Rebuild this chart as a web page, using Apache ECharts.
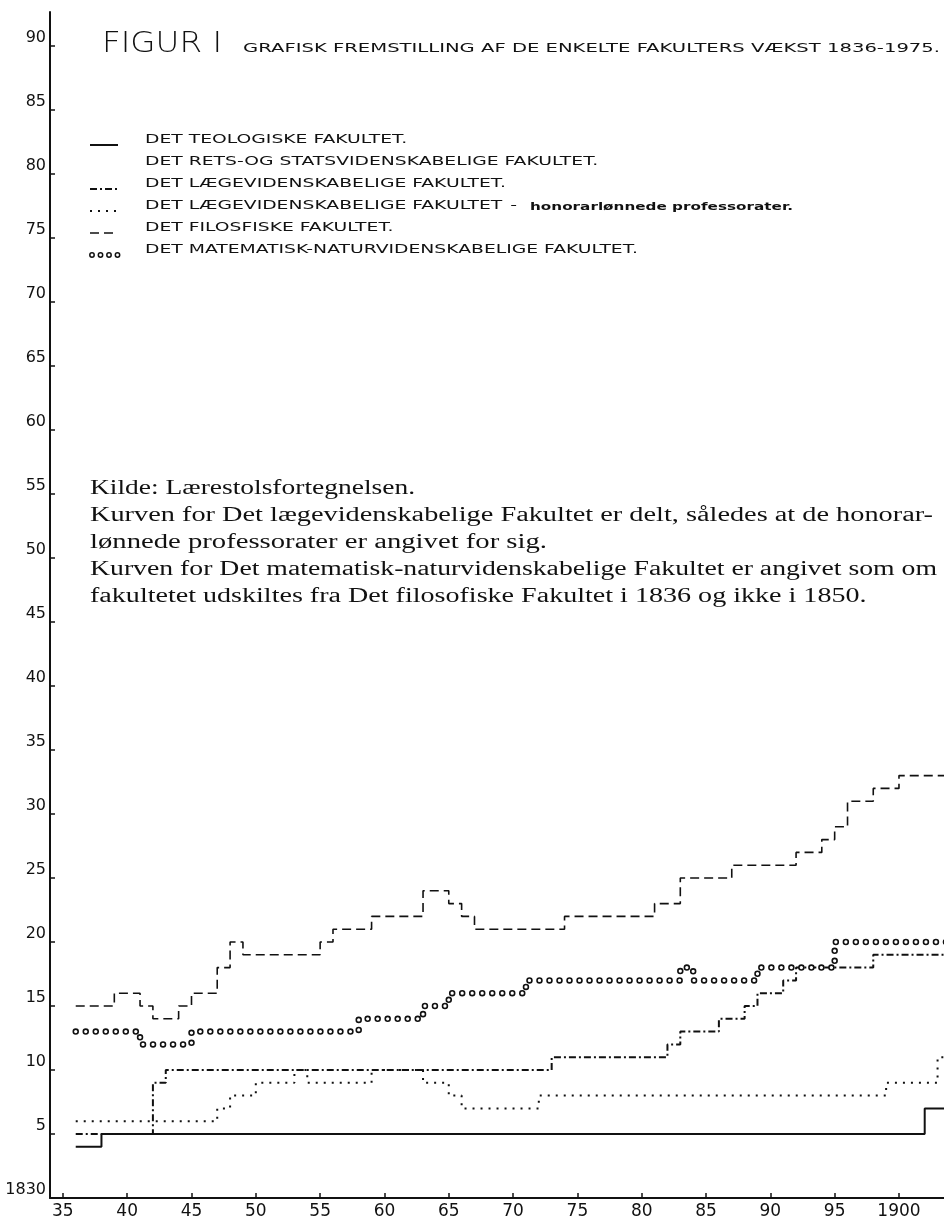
<!DOCTYPE html>
<html>
<head>
<meta charset="utf-8">
<script src="https://cdn.jsdelivr.net/npm/echarts@6/dist/echarts.min.js"></script>
<style>
  html, body { margin: 0; padding: 0; background: #fff; }
  #chart { width: 944px; height: 1225px; }
</style>
</head>
<body>
<div id="chart"></div>
<script>
// each year starts a new value; the last entry only carries the line to the edge
const teolYears = [1836, 1838, 1902, 1904];
const teolValues = [4, 5, 7, 7];

const laegeYears = [1836, 1842, 1843, 1873, 1882, 1883, 1886, 1888, 1889, 1891, 1892, 1898, 1904];
const laegeValues = [5, 9, 10, 11, 12, 13, 14, 15, 16, 17, 18, 19, 19];

const honorarYears = [1836, 1847, 1848, 1850, 1853, 1854, 1859, 1863, 1865, 1866, 1872, 1899, 1903, 1904];
const honorarValues = [6, 7, 8, 9, 10, 9, 10, 9, 8, 7, 8, 9, 11, 11];

const filosYears = [1836, 1839, 1841, 1842, 1844, 1845, 1847, 1848, 1849, 1855, 1856, 1859, 1863, 1865, 1866, 1867, 1874, 1881, 1883, 1887, 1892, 1894, 1895, 1896, 1898, 1900, 1904];
const filosValues = [15, 16, 15, 14, 15, 16, 18, 20, 19, 20, 21, 22, 24, 23, 22, 21, 22, 23, 25, 26, 27, 28, 29, 31, 32, 33, 33];

const matnatYears = [1836, 1841, 1845, 1858, 1863, 1865, 1871, 1883, 1884, 1889, 1895, 1904];
const matnatValues = [13, 12, 13, 14, 15, 16, 17, 18, 17, 18, 20, 20];

const xTickYears = [1835, 1840, 1845, 1850, 1855, 1860, 1865, 1870, 1875, 1880, 1885, 1890, 1895, 1900];
const xTickLabels = ['35', '40', '45', '50', '55', '60', '65', '70', '75', '80', '85', '90', '95', '1900'];
const yTickValues = [0, 5, 10, 15, 20, 25, 30, 35, 40, 45, 50, 55, 60, 65, 70, 75, 80, 85, 90];
const yTickLabels = ['1830', '5', '10', '15', '20', '25', '30', '35', '40', '45', '50', '55', '60', '65', '70', '75', '80', '85', '90'];

const facultyNames = [
  'DET TEOLOGISKE FAKULTET.',
  'DET RETS-OG STATSVIDENSKABELIGE FAKULTET.',
  'DET LÆGEVIDENSKABELIGE FAKULTET.',
  'DET LÆGEVIDENSKABELIGE FAKULTET',
  'DET FILOSFISKE FAKULTET.',
  'DET MATEMATISK-NATURVIDENSKABELIGE FAKULTET.'
];
const honorarNote = 'honorarlønnede professorater.';

const titleMain = 'FIGUR I';
const titleSub = 'GRAFISK FREMSTILLING AF DE ENKELTE FAKULTERS VÆKST 1836-1975.';
const noteLines = [
  'Kilde: Lærestolsfortegnelsen.',
  'Kurven for Det lægevidenskabelige Fakultet er delt, således at de honorar-',
  'lønnede professorater er angivet for sig.',
  'Kurven for Det matematisk-naturvidenskabelige Fakultet er angivet som om',
  'fakultetet udskiltes fra Det filosofiske Fakultet i 1836 og ikke i 1850.'
];

const ink = '#111';
const pairs = (xs, ys) => xs.map((x, i) => [x, ys[i]]);

// line looks, shared by the series and the hand-made key
const looks = {
  teol:    { color: ink, width: 2, type: 'solid' },
  laege:   { color: ink, width: 2, type: [7, 3, 2, 3] },
  honorar: { color: ink, width: 2, type: [2, 6] },
  filos:   { color: ink, width: 1.6, type: [9, 5] },
  ringOut: { color: ink, width: 6.5, type: [0.01, 10], cap: 'round' },
  ringIn:  { color: '#fff', width: 3.3, type: [0.01, 10], cap: 'round' }
};

const measure = document.createElement('canvas').getContext('2d');
function widthOf(text, font) {
  measure.font = font;
  return measure.measureText(text).width;
}
function stretchText(text, font, left, right, y) {
  return {
    type: 'text', x: left, y: y,
    scaleX: (right - left) / widthOf(text, font),
    style: { text: text, font: font, fill: ink, verticalAlign: 'middle' }
  };
}

function stepSeries(name, xs, ys, look, z) {
  return {
    name: name, type: 'line', step: 'end', data: pairs(xs, ys),
    symbol: 'none', z: z, silent: true, animation: false,
    lineStyle: { color: look.color, width: look.width, type: look.type, cap: look.cap || 'butt' }
  };
}

// key layout
const keyLeft = 145;
const keyFont = '13px "DejaVu Sans"';
const keyScale = (506 - keyLeft) / widthOf(facultyNames[2], keyFont);
const keyRows = [140, 162, 184, 206, 228, 250];
const keyGraphics = [];
facultyNames.forEach((name, i) => {
  keyGraphics.push({ type: 'text', x: keyLeft, y: keyRows[i], scaleX: keyScale,
    style: { text: name, font: keyFont, fill: ink, verticalAlign: 'middle' } });
});
keyGraphics.push({ type: 'text', x: keyLeft + keyScale * widthOf(facultyNames[3], keyFont) + 8, y: keyRows[3], scaleX: keyScale,
  style: { text: '-', font: keyFont, fill: ink, verticalAlign: 'middle' } });
keyGraphics.push(stretchText(honorarNote, 'bold 11px "DejaVu Sans"', 530, 793, keyRows[3] + 1));

const sampleLooks = [looks.teol, null, looks.laege, looks.honorar, looks.filos];
sampleLooks.forEach((look, i) => {
  if (!look) return;
  keyGraphics.push({ type: 'line', shape: { x1: 90, y1: keyRows[i] + 5, x2: 118, y2: keyRows[i] + 5 },
    style: { stroke: look.color, lineWidth: look.width, lineDash: look.type === 'solid' ? null : look.type } });
});
[0, 1, 2, 3].forEach(k => {
  keyGraphics.push({ type: 'circle', shape: { cx: 92 + k * 8.5, cy: keyRows[5] + 5, r: 2.2 },
    style: { fill: '#fff', stroke: ink, lineWidth: 1.5 } });
});

// body note
const noteLeft = 90;
const noteFont = '20px "Liberation Serif"';
const noteRows = [489, 516, 543, 570, 597];
const noteEnds = [415, 933, 547, 937, null];
const plainScale = ((415 - noteLeft) / widthOf(noteLines[0], noteFont) + (547 - noteLeft) / widthOf(noteLines[2], noteFont)) / 2;
const noteGraphics = noteLines.map((line, i) => ({
  type: 'text', x: noteLeft, y: noteRows[i],
  scaleX: noteEnds[i] ? (noteEnds[i] - noteLeft) / widthOf(line, noteFont) : plainScale,
  style: { text: line, font: noteFont, fill: ink, verticalAlign: 'middle' }
}));

const titleFont = '200 29px "DejaVu Sans"';
const subFont = '13px "DejaVu Sans"';

const chart = echarts.init(document.getElementById('chart'));
chart.setOption({
  backgroundColor: '#fff',
  animation: false,
  grid: { left: 50, right: 0, top: 12, bottom: 27, containLabel: false },
  xAxis: {
    type: 'value', min: 1834, max: 1903.5,
    axisLine: { onZero: false, lineStyle: { color: ink, width: 2 } },
    axisTick: { show: true, inside: true, length: 5, lineStyle: { color: ink, width: 1.5 }, customValues: xTickYears },
    axisLabel: {
      customValues: xTickYears, margin: 5, color: ink, fontSize: 17, fontFamily: 'DejaVu Sans',
      formatter: v => { const i = xTickYears.indexOf(v); return i < 0 ? '' : xTickLabels[i]; }
    },
    splitLine: { show: false }
  },
  yAxis: {
    type: 'value', min: 0, max: 92.66, interval: 5,
    axisLine: { show: true, onZero: false, lineStyle: { color: ink, width: 2 } },
    axisTick: { show: true, inside: true, length: 5, lineStyle: { color: ink, width: 1.5 }, customValues: yTickValues },
    axisLabel: {
      customValues: yTickValues, margin: 4, color: ink, fontSize: 16, fontFamily: 'DejaVu Sans',
      verticalAlign: 'bottom',
      formatter: v => { const i = yTickValues.indexOf(v); return i < 0 ? '' : yTickLabels[i]; }
    },
    splitLine: { show: false }
  },
  graphic: [
    stretchText(titleMain, titleFont, 102, 222, 44),
    stretchText(titleSub, subFont, 243, 940, 49)
  ].concat(keyGraphics, noteGraphics),
  series: [
    stepSeries(facultyNames[0], teolYears, teolValues, looks.teol, 2),
    stepSeries(facultyNames[2], laegeYears, laegeValues, looks.laege, 3),
    stepSeries(facultyNames[3], honorarYears, honorarValues, looks.honorar, 3),
    stepSeries(facultyNames[4], filosYears, filosValues, looks.filos, 3),
    stepSeries(facultyNames[5], matnatYears, matnatValues, looks.ringOut, 4),
    stepSeries('', matnatYears, matnatValues, looks.ringIn, 5)
  ]
});
</script>
</body>
</html>
